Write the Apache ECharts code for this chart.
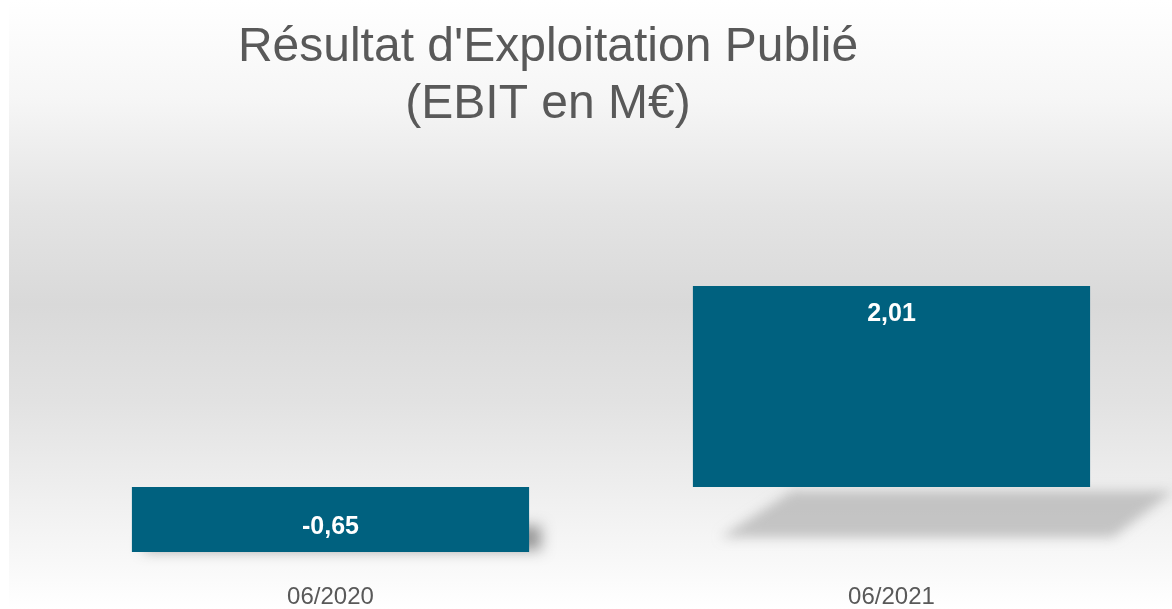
<!DOCTYPE html>
<html>
<head>
<meta charset="utf-8">
<title>EBIT</title>
<script src="https://cdn.jsdelivr.net/npm/echarts@6/dist/echarts.min.js"></script>
<style>
    html, body { margin: 0; padding: 0; background: #fff; }
    #chart { width: 1172px; height: 609px; }
</style>
</head>
<body>
<div id="chart"></div>
<script>
// données
var categories = ['06/2020', '06/2021'];
var ebitValues = [-0.65, 2.01];
var titleLines = ["Résultat d'Exploitation Publié", "(EBIT en M€)"];

var chart = echarts.init(document.getElementById('chart'));

// ombre portée "au sol" sous chaque barre
// (le polygone est dessiné hors champ, seule son ombre floue revient dans le cadre)
var SHIFT = 3000;
function renderShadow(params, api) {
    var v = api.value(1);
    var base = api.coord([api.value(0), 0]);
    var top = api.coord([api.value(0), v]);
    var w = api.size([1, 0])[0] * 0.708;
    var L = base[0] - w / 2, R = base[0] + w / 2;
    var pts, col, blur;
    if (v >= 0) {
        var h = base[1] - top[1];
        var y1 = base[1] + 4, y2 = base[1] + 4 + h * 0.23;
        pts = [[L + w * 0.25, y1], [R + w * 0.21, y1], [R + w * 0.058, y2], [L + w * 0.07, y2]];
        col = 'rgba(170,170,170,0.65)';
        blur = 12;
    } else {
        var yb = top[1];
        pts = [[L + w * 0.04, yb - 26], [R + w * 0.03, yb - 26], [R + w * 0.03, yb - 2], [L + w * 0.03, yb - 2]];
        col = 'rgba(60,60,60,0.5)';
        blur = 14;
    }
    return {
        type: 'polygon',
        shape: { points: pts.map(function (p) { return [p[0] - SHIFT, p[1]]; }) },
        style: {
            fill: '#000',
            shadowBlur: blur,
            shadowColor: col,
            shadowOffsetX: SHIFT,
            shadowOffsetY: 0
        }
    };
}

var option = {
    backgroundColor: new echarts.graphic.LinearGradient(0, 0, 0, 1, [
        { offset: 0, color: '#ffffff' },
        { offset: 0.16, color: '#f6f6f6' },
        { offset: 0.34, color: '#e4e4e4' },
        { offset: 0.5, color: '#d9d9d9' },
        { offset: 0.66, color: '#e2e2e2' },
        { offset: 0.8, color: '#eeeeee' },
        { offset: 0.92, color: '#f8f8f8' },
        { offset: 1, color: '#ffffff' }
    ]),
    graphic: [{
        type: 'rect',
        left: 0, top: 0,
        shape: { width: 9, height: 609 },
        style: { fill: '#ffffff' },
        z: -10
    }],
    title: {
        text: titleLines.join('\n'),
        left: 543,
        top: 14,
        textAlign: 'center',
        textStyle: {
            fontFamily: 'Liberation Sans, Arial, sans-serif',
            fontSize: 48,
            fontWeight: 'normal',
            lineHeight: 57,
            color: '#595959'
        }
    },
    grid: {
        left: 50,
        right: 0,
        top: 187,
        bottom: 42
    },
    xAxis: {
        type: 'category',
        data: categories,
        axisLine: { show: false },
        axisTick: { show: false },
        axisLabel: {
            margin: 18,
            fontFamily: 'Liberation Sans, Arial, sans-serif',
            fontSize: 24,
            color: '#595959'
        }
    },
    yAxis: {
        type: 'value',
        min: -0.8,
        max: 3,
        show: false,
        splitLine: { show: false }
    },
    series: [{
        type: 'custom',
        renderItem: renderShadow,
        data: ebitValues.map(function (v, i) { return [i, v]; }),
        z: 1,
        silent: true
    }, {
        type: 'bar',
        barCategoryGap: '29.2%',
        z: 2,
        itemStyle: { color: '#00617f' },
        label: {
            show: true,
            color: '#ffffff',
            fontFamily: 'Liberation Sans, Arial, sans-serif',
            fontSize: 25,
            fontWeight: 'bold',
            formatter: function (p) {
                return p.value.toFixed(2).replace('.', ',');
            }
        },
        data: ebitValues.map(function (v) {
            return v < 0
                ? { value: v, label: { position: 'inside', offset: [0, 8] } }
                : { value: v, label: { position: 'insideTop', distance: 16 } };
        })
    }]
};

chart.setOption(option);
</script>
</body>
</html>
